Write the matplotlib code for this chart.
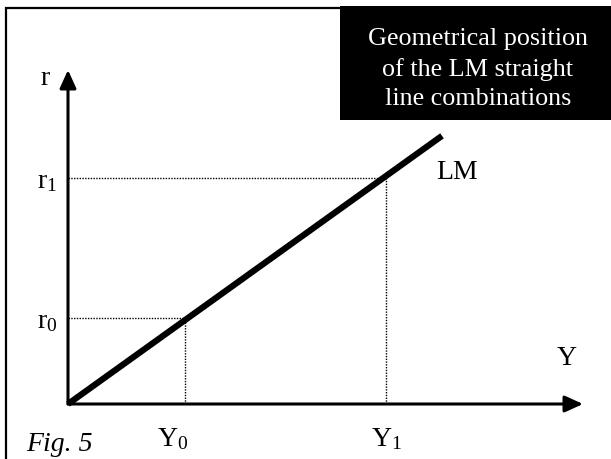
import matplotlib.pyplot as plt
from matplotlib.patches import Rectangle

plt.rcParams['font.family'] = 'Liberation Serif'
plt.rcParams['mathtext.fontset'] = 'custom'
plt.rcParams['mathtext.rm'] = 'Liberation Serif'
plt.rcParams['mathtext.it'] = 'Liberation Serif:italic'

# diagram values (units: 1 = 100 px from the origin)
y_levels = [1.17, 3.18]          # Y0, Y1
r_levels = [0.86, 2.26]          # r0, r1
y_labels = ['$\\mathregular{Y_0}$', '$\\mathregular{Y_1}$']
r_labels = ['$\\mathregular{r_0}$', '$\\mathregular{r_1}$']
lm_slope = 0.717
lm_end = 3.74
x_axis_end = 5.15
y_axis_end = 3.34
box_text = 'Geometrical position\nof the LM straight\nline combinations'

fig = plt.figure(figsize=(6.11, 4.59), dpi=100)
ax = fig.add_axes([0, 0, 1, 1])
ax.set_xlim(-0.68, 5.43)
ax.set_ylim(-0.55, 4.04)
ax.axis('off')

# outer frame (left and top edges only, the rest is cropped)
ax.plot([-0.625, -0.625, 5.43], [-0.55, 3.965, 3.965], color='k', lw=1.6,
        solid_joinstyle='miter')

# title box
ax.add_patch(Rectangle((2.72, 2.84), 2.71, 1.14, facecolor='k', edgecolor='none'))
ax.text(4.10, 3.35, box_text, color='white', fontsize=18.8, ha='center',
        va='center', linespacing=1.42)

# axes with arrows
arrow = dict(arrowstyle='-|>,head_length=1.1,head_width=0.5', lw=2.2,
             color='k', mutation_scale=10, shrinkA=0, shrinkB=0)
ax.annotate('', xy=(x_axis_end, 0), xytext=(0, 0), arrowprops=arrow)
ax.annotate('', xy=(0, y_axis_end), xytext=(0, 0), arrowprops=arrow)

# dotted guides
for yv, rv in zip(y_levels, r_levels):
    ax.plot([0, yv], [rv, rv], color='k', lw=1, ls=(0, (1, 1)))
    ax.plot([yv, yv], [0, rv], color='k', lw=1, ls=(0, (1, 1)))

# LM line
ax.plot([0, lm_end], [0, lm_slope * lm_end], color='k', lw=4.5,
        solid_capstyle='butt')

fs = 20
ax.text(-0.23, 3.19, 'r', fontsize=fs, ha='center', va='baseline')
ax.text(4.99, 0.39, 'Y', fontsize=fs, ha='center', va='baseline')
ax.text(3.68, 2.25, 'LM', fontsize=fs, ha='left', va='baseline')
for rv, lab in zip(r_levels, r_labels):
    ax.text(-0.31, rv - 0.1, lab, fontsize=fs, ha='left', va='baseline')
ax.text(y_levels[0] - 0.12, -0.42, y_labels[0], fontsize=fs, ha='center',
        va='baseline')
ax.text(y_levels[1], -0.42, y_labels[1], fontsize=fs, ha='center',
        va='baseline')
ax.text(-0.42, -0.47, 'Fig. 5', fontsize=20, style='italic', ha='left',
        va='baseline')

fig.savefig('out.png', dpi=100)
